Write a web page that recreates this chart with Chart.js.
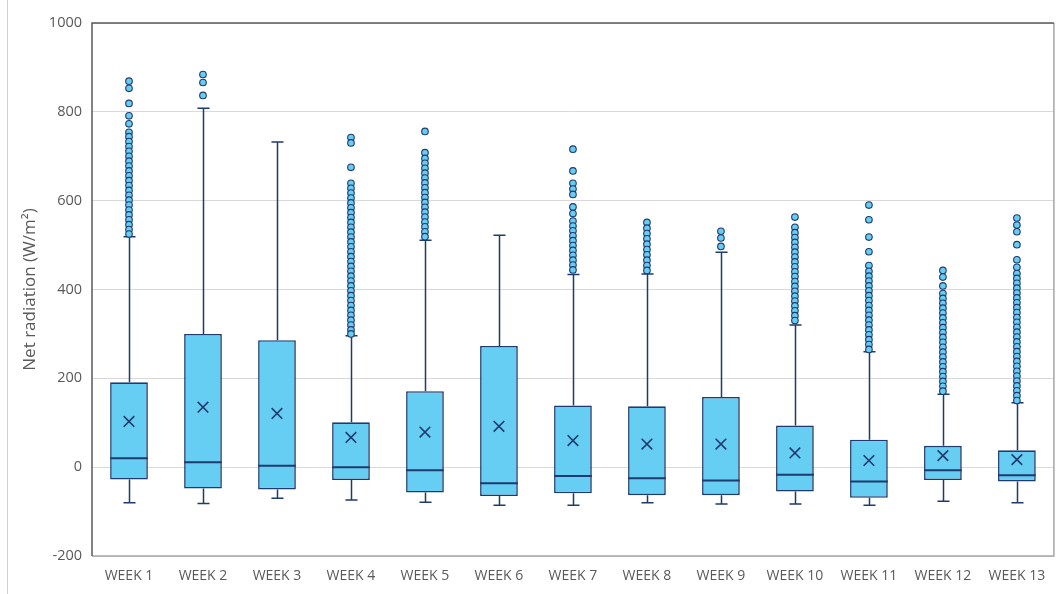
<!DOCTYPE html>
<html>
<head>
<meta charset="utf-8">
<script src="https://cdn.jsdelivr.net/npm/chart.js@4/dist/chart.umd.min.js"></script>
<style>
  html, body { margin: 0; padding: 0; background: #ffffff; }
  #wrap { width: 1063px; height: 594px; position: relative; }
</style>
</head>
<body>
<div id="wrap"><canvas id="c" width="1063" height="594"></canvas></div>
<script>
// Weekly net radiation distribution (W/m²)
const weeks = ['WEEK 1', 'WEEK 2', 'WEEK 3', 'WEEK 4', 'WEEK 5', 'WEEK 6', 'WEEK 7',
               'WEEK 8', 'WEEK 9', 'WEEK 10', 'WEEK 11', 'WEEK 12', 'WEEK 13'];
const whiskerLow  = [-80, -82, -70, -74, -79, -86, -86, -80, -83, -83, -86, -77, -80];
const quartile1   = [-28, -48, -50, -29, -57, -65, -59, -63, -63, -55, -69, -29, -32];
const medians     = [20, 11, 3, 0, -7, -36, -20, -25, -30, -17, -32, -7, -18];
const quartile3   = [191, 300, 286, 101, 171, 273, 139, 137, 158, 94, 62, 48, 38];
const whiskerHigh = [519, 808, 732, 296, 511, 522, 434, 435, 484, 320, 260, 164, 145];
const means       = [103, 135, 121, 67, 79, 92, 60, 52, 52, 32, 15, 26, 17];
const yTicks      = [-200, 0, 200, 400, 600, 800, 1000];

const outliers = [
  [869, 853, 819, 791, 773, 754, 744, 733, 722, 711, 700, 689, 678, 667, 656, 645, 634, 623,
   612, 601, 590, 579, 568, 557, 546, 535, 525],
  [884, 866, 837],
  [],
  [742, 730, 675, 639, 628, 617, 606, 595, 584, 573, 562, 551, 540, 529, 518, 507, 496, 485,
   474, 463, 452, 441, 430, 419, 408, 397, 386, 375, 364, 353, 342, 331, 320, 309, 300],
  [756, 708, 695, 684, 673, 662, 651, 640, 629, 618, 607, 596, 585, 574, 563, 552, 541, 530, 519],
  [],
  [716, 667, 639, 626, 614, 586, 571, 554, 543, 532, 521, 510, 499, 488, 477, 466, 455, 444],
  [551, 538, 526, 514, 502, 490, 478, 466, 454, 443],
  [531, 516, 497],
  [563, 540, 528, 517, 506, 495, 484, 473, 462, 451, 440, 429, 418, 407, 396, 385, 374, 363,
   352, 341, 330],
  [590, 557, 518, 485, 454, 441, 430, 419, 408, 397, 386, 375, 364, 353, 342, 331, 320, 309,
   298, 287, 276, 265],
  [443, 428, 408, 391, 380, 369, 358, 347, 336, 325, 314, 303, 292, 281, 270, 259, 248, 237,
   226, 215, 204, 193, 182, 171],
  [561, 545, 530, 501, 467, 450, 436, 425, 414, 403, 392, 381, 370, 359, 348, 337, 326, 315,
   304, 293, 282, 271, 260, 249, 238, 227, 216, 205, 194, 183, 172, 161, 150]
];

const NAVY = '#1F3A6E';
const FILL = '#66CDF3';
const TEXT = '#595959';
const FONT = "'Open Sans', 'Liberation Sans', sans-serif";

const outlierPoints = [];
outliers.forEach((list, i) => list.forEach(v => outlierPoints.push({ x: weeks[i], y: v })));
const meanPoints = means.map((v, i) => ({ x: weeks[i], y: v }));

// Whiskers and median lines, drawn right after the boxes
const boxExtras = {
  id: 'boxExtras',
  afterDatasetDraw(chart, args) {
    if (args.index !== 0) return;
    const ctx = chart.ctx;
    const y = chart.scales.y;
    const bars = chart.getDatasetMeta(0).data;
    ctx.save();
    ctx.strokeStyle = NAVY;
    bars.forEach((bar, i) => {
      const x = Math.round(bar.x) + 0.5;
      const half = bar.width / 2;
      const cap = bar.width * 0.16;
      ctx.lineWidth = 1.5;
      ctx.beginPath();
      ctx.moveTo(x, y.getPixelForValue(quartile3[i]));
      ctx.lineTo(x, y.getPixelForValue(whiskerHigh[i]));
      ctx.moveTo(x - cap, y.getPixelForValue(whiskerHigh[i]));
      ctx.lineTo(x + cap, y.getPixelForValue(whiskerHigh[i]));
      ctx.moveTo(x, y.getPixelForValue(quartile1[i]));
      ctx.lineTo(x, y.getPixelForValue(whiskerLow[i]));
      ctx.moveTo(x - cap, y.getPixelForValue(whiskerLow[i]));
      ctx.lineTo(x + cap, y.getPixelForValue(whiskerLow[i]));
      ctx.stroke();
      ctx.lineWidth = 2;
      ctx.beginPath();
      ctx.moveTo(bar.x - half, y.getPixelForValue(medians[i]));
      ctx.lineTo(bar.x + half, y.getPixelForValue(medians[i]));
      ctx.stroke();
    });
    ctx.restore();
  }
};

// Plot frame and the thin outer rule on the left
const frame = {
  id: 'frame',
  beforeDraw(chart) {
    const ctx = chart.ctx;
    ctx.save();
    ctx.strokeStyle = '#D0D0D0';
    ctx.lineWidth = 1;
    ctx.beginPath();
    ctx.moveTo(7.5, 0);
    ctx.lineTo(7.5, chart.height);
    ctx.stroke();
    ctx.restore();
  },
  afterDraw(chart) {
    const a = chart.chartArea;
    const ctx = chart.ctx;
    ctx.save();
    ctx.lineWidth = 1.5;
    ctx.strokeStyle = '#A6A6A6';
    ctx.beginPath();
    ctx.moveTo(a.left, a.bottom);
    ctx.lineTo(a.right, a.bottom);
    ctx.lineTo(a.right, a.top);
    ctx.stroke();
    ctx.strokeStyle = '#595959';
    ctx.beginPath();
    ctx.moveTo(a.left, a.bottom);
    ctx.lineTo(a.left, a.top);
    ctx.lineTo(a.right, a.top);
    ctx.stroke();
    ctx.restore();
  }
};

new Chart(document.getElementById('c'), {
  data: {
    labels: weeks,
    datasets: [
      {
        type: 'bar',
        label: 'Box',
        data: quartile1.map((q, i) => [q, quartile3[i]]),
        backgroundColor: FILL,
        borderColor: NAVY,
        borderWidth: 1.6,
        borderSkipped: false,
        barPercentage: 0.51,
        categoryPercentage: 1.0,
        order: 3
      },
      {
        type: 'line',
        label: 'Outliers',
        data: outlierPoints,
        showLine: false,
        pointStyle: 'circle',
        pointRadius: 3.3,
        pointBorderWidth: 1.1,
        pointBackgroundColor: FILL,
        pointBorderColor: NAVY,
        order: 2
      },
      {
        type: 'line',
        label: 'Mean',
        data: meanPoints,
        showLine: false,
        pointStyle: 'crossRot',
        pointRadius: 7.5,
        pointBorderWidth: 1.6,
        pointBorderColor: NAVY,
        pointBackgroundColor: NAVY,
        order: 1
      }
    ]
  },
  options: {
    responsive: false,
    animation: false,
    layout: { padding: { left: 0, right: 5, top: 23, bottom: 0 } },
    plugins: {
      legend: { display: false },
      tooltip: { enabled: false }
    },
    scales: {
      x: {
        type: 'category',
        grid: { display: false, drawTicks: false },
        border: { display: false },
        ticks: { color: TEXT, font: { family: FONT, size: 14 }, padding: 12, maxRotation: 0 },
        afterFit(s) { s.height = 38; }
      },
      y: {
        type: 'linear',
        min: -200,
        max: 1000,
        afterBuildTicks(s) { s.ticks = yTicks.map(v => ({ value: v })); },
        grid: { color: '#D9D9D9', lineWidth: 1, drawTicks: false },
        border: { display: false },
        ticks: {
          color: TEXT,
          font: { family: FONT, size: 14.5 },
          padding: 10,
          callback: v => String(v)
        },
        title: {
          display: true,
          text: 'Net radiation (W/m²)',
          color: TEXT,
          font: { family: FONT, size: 17 },
          padding: { top: 20, bottom: 0 }
        },
        afterFit(s) { s.width = 92; }
      }
    }
  },
  plugins: [frame, boxExtras]
});
</script>
</body>
</html>
